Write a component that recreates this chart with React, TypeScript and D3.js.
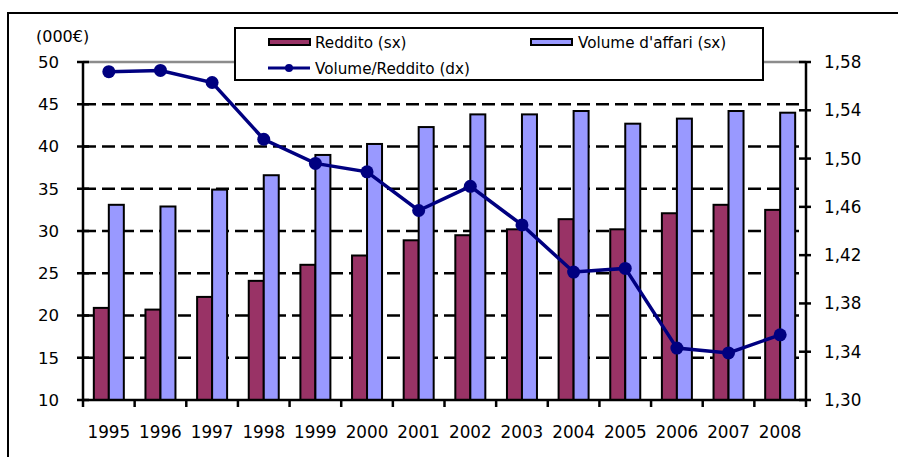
import React from "react";
import * as d3 from "d3";

const years = ["1995","1996","1997","1998","1999","2000","2001","2002","2003","2004","2005","2006","2007","2008"];
const reddito = [20.9, 20.7, 22.2, 24.1, 26.0, 27.1, 28.9, 29.5, 30.2, 31.4, 30.2, 32.1, 33.1, 32.5];
const volume = [33.1, 32.9, 34.9, 36.6, 39.0, 40.3, 42.3, 43.8, 43.8, 44.2, 42.7, 43.3, 44.2, 44.0];
const ratio = [1.572, 1.573, 1.563, 1.516, 1.496, 1.489, 1.457, 1.477, 1.445, 1.406, 1.409, 1.343, 1.339, 1.354];
const leftTicks = [10, 15, 20, 25, 30, 35, 40, 45, 50];
const rightTicks = [1.30, 1.34, 1.38, 1.42, 1.46, 1.50, 1.54, 1.58];

const FONT = "'DejaVu Sans', Verdana, sans-serif";

export default function App() {
  const left = 83, right = 806, top = 62, bottom = 400;
  const x = d3.scaleBand<string>().domain(years).range([left, right]).paddingInner(0).paddingOuter(0);
  const yL = d3.scaleLinear().domain([10, 50]).range([bottom, top]);
  const yR = d3.scaleLinear().domain([1.30, 1.58]).range([bottom, top]);
  const bw = 15;
  const cx = (y: string) => (x(y) as number) + x.bandwidth() / 2;
  const line = d3.line<number>().x((_, i) => cx(years[i])).y((d) => yR(d));
  const fmt = (v: number) => v.toFixed(2).replace(".", ",");
  const boundaries = d3.range(years.length + 1).map((i) => left + i * x.bandwidth());

  return (
    <svg width={898} height={457} style={{ position: "absolute", left: 0, top: 0, background: "#fff" }} fontFamily={FONT}>
      <rect x={8} y={13} width={910} height={470} fill="#fff" stroke="#000" strokeWidth={2} />
      {/* gridlines */}
      {leftTicks.filter((t) => t > 10 && t < 50).map((t) => (
        <line key={t} x1={left} x2={right} y1={yL(t)} y2={yL(t)} stroke="#000" strokeWidth={2.5} strokeDasharray="13,6" />
      ))}
      <line x1={left} x2={right} y1={yL(50)} y2={yL(50)} stroke="#8c8c8c" strokeWidth={2.5} />
      {/* bars */}
      {years.map((y, i) => (
        <g key={y}>
          <rect x={cx(y) - bw} y={yL(reddito[i])} width={bw} height={bottom - yL(reddito[i])} fill="#993366" stroke="#000" strokeWidth={2} />
          <rect x={cx(y)} y={yL(volume[i])} width={bw} height={bottom - yL(volume[i])} fill="#9999FF" stroke="#000" strokeWidth={2} />
        </g>
      ))}
      {/* axes */}
      <line x1={left} x2={left} y1={top} y2={bottom} stroke="#000" strokeWidth={2.5} />
      <line x1={right} x2={right} y1={top} y2={bottom} stroke="#000" strokeWidth={2.5} />
      <line x1={left - 1} x2={right + 1} y1={bottom} y2={bottom} stroke="#000" strokeWidth={2.5} />
      {leftTicks.map((t) => (
        <g key={t}>
          <line x1={left - 6} x2={left + 6} y1={yL(t)} y2={yL(t)} stroke="#000" strokeWidth={2.5} />
          <text x={59} y={yL(t)} dy="0.36em" textAnchor="end" fontSize={16.6}>{t}</text>
        </g>
      ))}
      {rightTicks.map((t) => (
        <g key={t}>
          <line x1={right - 7} x2={right + 5} y1={yR(t)} y2={yR(t)} stroke="#000" strokeWidth={2.5} />
          <text x={824} y={yR(t)} dy="0.36em" textAnchor="start" fontSize={16.8}>{fmt(t)}</text>
        </g>
      ))}
      {boundaries.map((b, i) => (
        <line key={i} x1={b} x2={b} y1={bottom} y2={bottom + 7} stroke="#000" strokeWidth={2.5} />
      ))}
      {years.map((y) => (
        <text key={y} x={cx(y)} y={438} textAnchor="middle" fontSize={16.8}>{y}</text>
      ))}
      <text x={36} y={42} fontSize={16}>(000€)</text>
      {/* line series */}
      <path d={line(ratio) || ""} fill="none" stroke="#000080" strokeWidth={3.5} />
      {ratio.map((r, i) => (
        <circle key={i} cx={cx(years[i])} cy={yR(r)} r={6.5} fill="#000080" />
      ))}
      {/* legend */}
      <rect x={235} y={28} width={528} height={52} fill="#fff" stroke="#000" strokeWidth={2} />
      <rect x={269} y={39} width={41} height={6} fill="#993366" stroke="#000" strokeWidth={2} />
      <text x={315} y={48} fontSize={15.2}>Reddito (sx)</text>
      <rect x={531} y={39} width={41} height={6} fill="#9999FF" stroke="#000" strokeWidth={2} />
      <text x={578} y={48} fontSize={15.2}>Volume d'affari (sx)</text>
      <line x1={268} x2={310} y1={68} y2={68} stroke="#000080" strokeWidth={3} />
      <circle cx={289} cy={68} r={4} fill="#000080" />
      <text x={315} y={74} fontSize={15.2}>Volume/Reddito (dx)</text>
    </svg>
  );
}
